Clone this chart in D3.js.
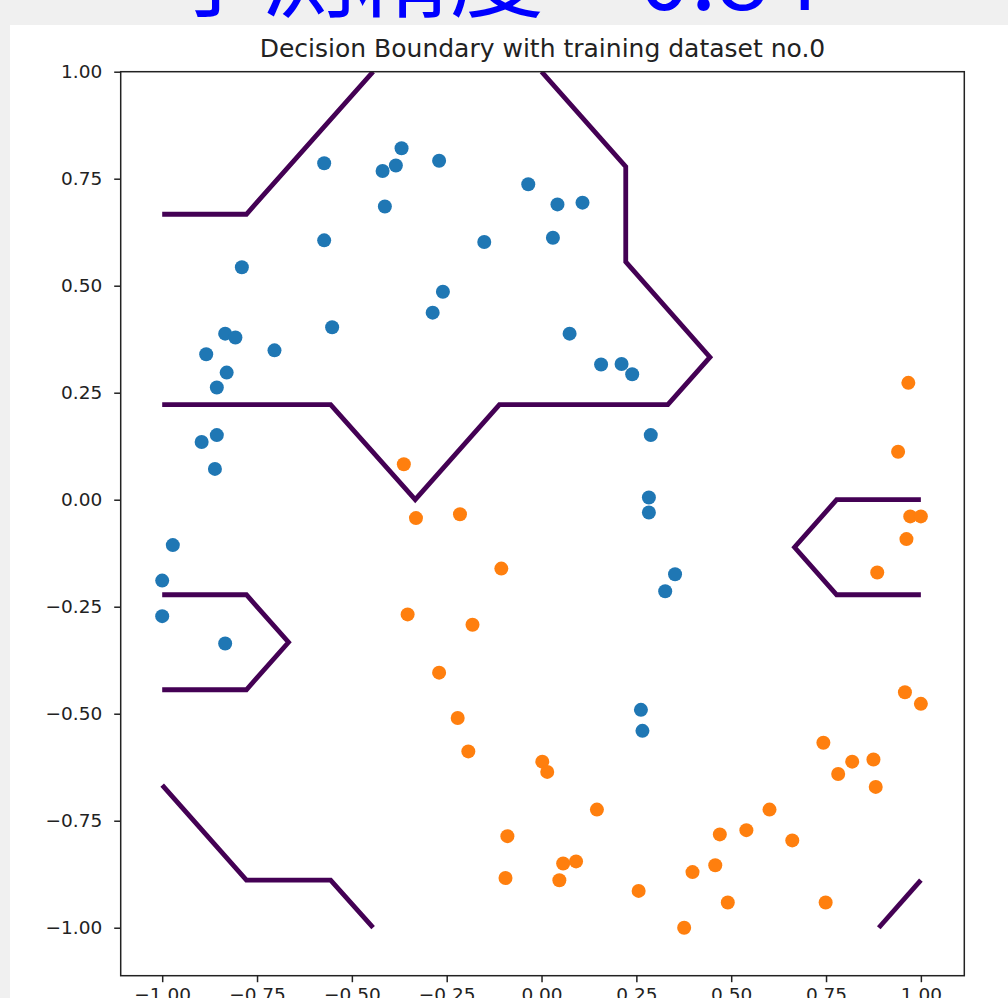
<!DOCTYPE html>
<html>
<head>
<meta charset="utf-8">
<script src="https://cdn.jsdelivr.net/npm/d3@7"></script>
<style>
  html, body { margin: 0; padding: 0; background: #f0f0f0; }
  svg { display: block; }
</style>
</head>
<body>
<svg id="chart" width="1008" height="998"></svg>
<script>
// Headline and axes title
const headline = "予測精度 = 0.84";
const chartTitle = "Decision Boundary with training dataset no.0";

// Class 0 samples (blue)
const class0X = [-0.573, -0.573, -0.419, -0.384, -0.369, -0.413, -0.270, -0.035, 0.042, 0.108,
                 0.030, -0.151, -0.790, -0.260, -0.287, -0.552, 0.074, -0.704, -0.834, -0.807,
                 -0.884, -0.830, -0.856, 0.157, 0.211, 0.239, 0.288, -0.896, -0.856, -0.861,
                 -0.972, -1.000, -1.000, -0.834, 0.283, 0.283, 0.352, 0.326, 0.262, 0.266];
const class0Y = [0.786, 0.606, 0.768, 0.781, 0.821, 0.685, 0.792, 0.737, 0.690, 0.694,
                 0.612, 0.602, 0.543, 0.486, 0.437, 0.403, 0.388, 0.349, 0.388, 0.379,
                 0.340, 0.297, 0.262, 0.316, 0.317, 0.293, 0.151, 0.135, 0.151, 0.072,
                 -0.106, -0.189, -0.272, -0.336, 0.005, -0.030, -0.174, -0.214, -0.491, -0.540];

// Class 1 samples (orange)
const class1X = [-0.363, -0.331, -0.215, -0.106, -0.353, -0.182, -0.270, -0.221, -0.193, 0.002,
                 0.015, 0.146, -0.090, 0.057, 0.091, -0.095, 0.047, 0.256, 0.376, 0.398,
                 0.458, 0.470, 0.540, 0.491, 0.601, 0.661, 0.749, 0.743, 0.782, 0.819,
                 0.875, 0.881, 0.958, 1.000, 0.967, 0.940, 0.972, 1.000, 0.962, 0.885];
const class1Y = [0.083, -0.043, -0.034, -0.161, -0.268, -0.292, -0.404, -0.510, -0.588, -0.612,
                 -0.636, -0.724, -0.786, -0.850, -0.845, -0.884, -0.889, -0.914, -1.000, -0.870,
                 -0.854, -0.782, -0.772, -0.941, -0.724, -0.796, -0.941, -0.568, -0.641, -0.612,
                 -0.607, -0.671, -0.450, -0.477, 0.273, 0.112, -0.039, -0.039, -0.092, -0.170];

// Decision boundary polylines (0.5 level of the classifier grid)
const boundaryTopLeft = [[-1, 0.667], [-0.778, 0.667], [-0.444, 1.0]];
const boundaryCentral = [[0, 1.0], [0.222, 0.778], [0.222, 0.556], [0.444, 0.333], [0.333, 0.222],
                         [-0.111, 0.222], [-0.333, 0], [-0.556, 0.222], [-1, 0.222]];
const boundaryLeftNotch = [[-1, -0.222], [-0.778, -0.222], [-0.667, -0.333], [-0.778, -0.444], [-1, -0.444]];
const boundaryBottomLeft = [[-1, -0.667], [-0.778, -0.889], [-0.556, -0.889], [-0.444, -1.0]];
const boundaryRightNotch = [[1, 0], [0.778, 0], [0.667, -0.111], [0.778, -0.222], [1, -0.222]];
const boundaryBottomRight = [[1, -0.889], [0.889, -1.0]];

// Tick values
const xTicks = [-1.00, -0.75, -0.50, -0.25, 0.00, 0.25, 0.50, 0.75, 1.00];
const yTicks = [-1.00, -0.75, -0.50, -0.25, 0.00, 0.25, 0.50, 0.75, 1.00];

const boundaries = [boundaryTopLeft, boundaryCentral, boundaryLeftNotch,
                    boundaryBottomLeft, boundaryRightNotch, boundaryBottomRight];

const svg = d3.select("#chart");
const plot = { left: 120.7, right: 964.3, top: 71.7, bottom: 975.7 };

const x = d3.scaleLinear().domain([-1.1094, 1.1145]).range([plot.left, plot.right]);
const y = d3.scaleLinear().domain([-1.1121, 1.0]).range([plot.bottom, plot.top]);

const tickFont = "'DejaVu Sans', sans-serif";
const fmt = d3.format(".2f");

// page background and figure area
svg.append("rect").attr("width", 1008).attr("height", 998).attr("fill", "#f0f0f0");
svg.append("rect").attr("x", 10).attr("y", 25).attr("width", 998).attr("height", 973).attr("fill", "#ffffff");

// large headline
svg.append("text")
  .attr("x", 168).attr("y", 10)
  .attr("font-family", "'Noto Sans CJK JP', sans-serif")
  .attr("font-size", 94)
  .attr("fill", "#0000ff")
  .text(headline);

// axes background
svg.append("rect")
  .attr("x", plot.left).attr("y", plot.top)
  .attr("width", plot.right - plot.left).attr("height", plot.bottom - plot.top)
  .attr("fill", "#ffffff");

svg.append("clipPath").attr("id", "plot-clip")
  .append("rect")
  .attr("x", plot.left).attr("y", plot.top)
  .attr("width", plot.right - plot.left).attr("height", plot.bottom - plot.top);

// decision boundary
const line = d3.line().x(d => x(d[0])).y(d => y(d[1]));
svg.append("g").attr("clip-path", "url(#plot-clip)")
  .selectAll("path")
  .data(boundaries)
  .join("path")
  .attr("d", line)
  .attr("fill", "none")
  .attr("stroke", "#440154")
  .attr("stroke-width", 4.8)
  .attr("stroke-linejoin", "miter")
  .attr("stroke-linecap", "butt");

// scatter points
const pts0 = class0X.map((v, i) => [v, class0Y[i]]);
const pts1 = class1X.map((v, i) => [v, class1Y[i]]);
svg.append("g").selectAll("circle")
  .data(pts0).join("circle")
  .attr("cx", d => x(d[0])).attr("cy", d => y(d[1])).attr("r", 7)
  .attr("fill", "#1f77b4");
svg.append("g").selectAll("circle")
  .data(pts1).join("circle")
  .attr("cx", d => x(d[0])).attr("cy", d => y(d[1])).attr("r", 7)
  .attr("fill", "#ff7f0e");

// axes
const yAxis = d3.axisLeft(y).tickValues(yTicks).tickFormat(fmt).tickSize(6.5).tickPadding(12);
const yg = svg.append("g").attr("transform", `translate(${plot.left},0)`).call(yAxis);
const xAxis = d3.axisBottom(x).tickValues(xTicks).tickFormat(fmt).tickSize(6.5).tickPadding(5.5);
const xg = svg.append("g").attr("transform", `translate(0,${plot.bottom})`).call(xAxis);

[yg, xg].forEach(g => {
  g.select(".domain").remove();
  g.selectAll(".tick line").attr("stroke", "#222").attr("stroke-width", 1.5);
  g.selectAll(".tick text")
    .attr("font-family", tickFont)
    .attr("font-size", 18.5)
    .attr("fill", "#222");
});

// spines
svg.append("rect")
  .attr("x", plot.left).attr("y", plot.top)
  .attr("width", plot.right - plot.left).attr("height", plot.bottom - plot.top)
  .attr("fill", "none").attr("stroke", "#222").attr("stroke-width", 1.5);

// title
svg.append("text")
  .attr("x", (plot.left + plot.right) / 2).attr("y", 57)
  .attr("text-anchor", "middle")
  .attr("font-family", tickFont)
  .attr("font-size", 25)
  .attr("fill", "#222")
  .text(chartTitle);
</script>
</body>
</html>
